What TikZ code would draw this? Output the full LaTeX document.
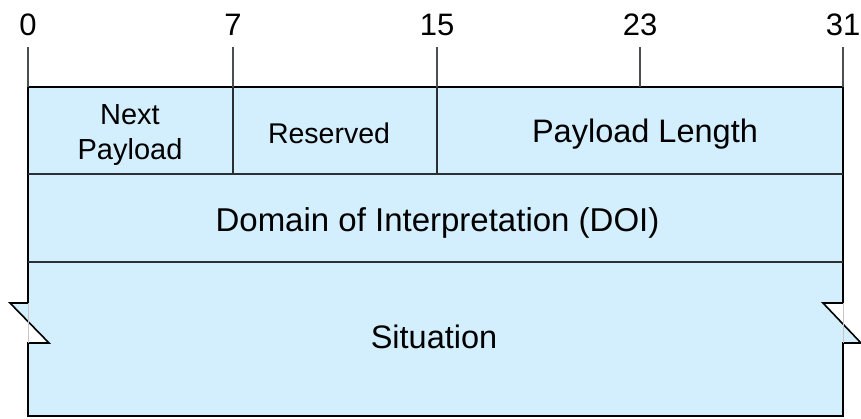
\documentclass[tikz,border=0pt]{standalone}
\usepackage{fontspec}
\setmainfont{Liberation Sans}
\usetikzlibrary{positioning}
\definecolor{hdrblue}{HTML}{D3EEFC}
\definecolor{hdrline}{HTML}{2B2F33}

\begin{document}
\begin{tikzpicture}[
    x=1pt, y=-1pt,
    bitlabel/.style={inner sep=0pt, anchor=base, font=\fontsize{31}{36}\selectfont},
    fieldtext/.style={inner sep=0pt, anchor=base, font=\fontsize{32.5}{36}\selectfont},
    smalltext/.style={inner sep=0pt, align=center, font=\fontsize{29}{35}\selectfont},
    tick/.style={line width=1.3pt, hdrline!85},
    divider/.style={line width=1.3pt, hdrline},
    outline/.style={line width=1.6pt, black, fill=hdrblue, line join=miter}
  ]
    \useasboundingbox (0,0) rectangle (861,419);

    % Header outline with cut notches on the sides
    \draw[outline] (28,87) -- (843,87) -- (843,303) -- (823,303) -- (861,343)
        -- (843,343) -- (843,416) -- (28,416) -- (28,343) -- (49,343)
        -- (10,303) -- (28,303) -- cycle;
    \draw[gray!45, line width=0.8pt] (28,303) -- (28,343);
    \draw[gray!45, line width=0.8pt] (843,303) -- (843,343);

    % Bit ruler
    \foreach \bit/\x in {0/28, 7/233, 15/437, 23/640, 31/843} {
      \node[bitlabel] (bit\bit) at (\x,36) {\bit};
      \draw[tick] (\x,47) -- (\x,87);
    }

    % Row 1: Next Payload, Reserved, Payload Length
    \draw[divider] (233,87) -- (233,174);
    \draw[divider] (437,87) -- (437,174);
    \node[smalltext] (next) at (130,135) {Next\\Payload};
    \node[fieldtext, font=\fontsize{28.5}{32}\selectfont] (resv) at (329,144) {Reserved};
    \node[fieldtext, font=\fontsize{32.5}{36}\selectfont] (plen) at (645,143) {Payload Length};

    % Row 2: DOI
    \draw[divider] (28,174) -- (843,174);
    \node[fieldtext, font=\fontsize{33}{36}\selectfont] (doi) at (437.5,231.5) {Domain of Interpretation (DOI)};

    % Row 3: Situation
    \draw[divider] (28,262) -- (843,262);
    \node[fieldtext] (sit) at (434,348) {Situation};
  \end{tikzpicture}
\end{document}
